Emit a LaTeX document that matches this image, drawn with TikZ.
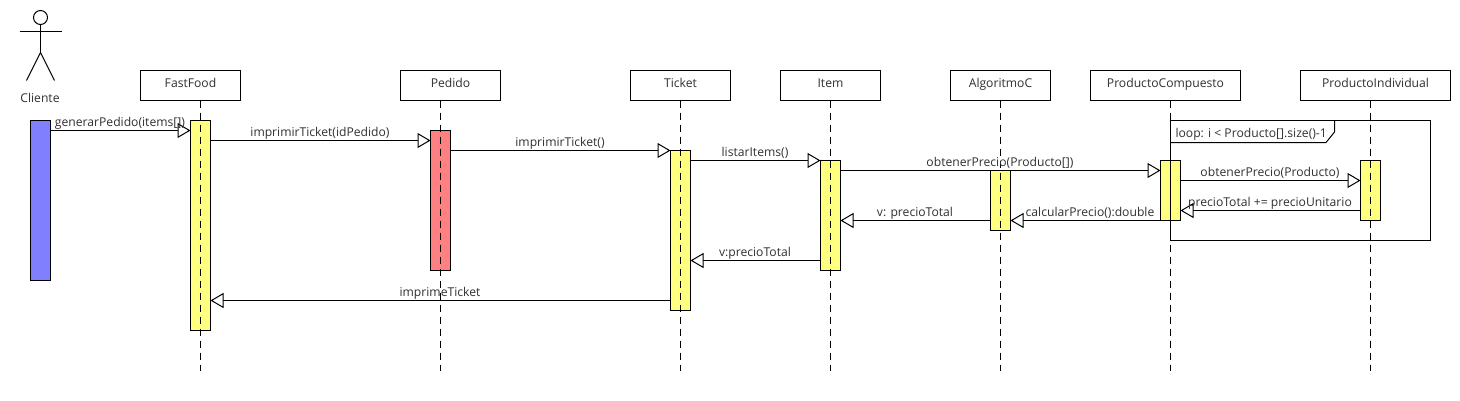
\documentclass[tikz,border=0pt]{standalone}
\usepackage{fontspec}
\setmainfont{Open Sans}
\usetikzlibrary{arrows.meta}
\definecolor{txt}{HTML}{303030}
\definecolor{actY}{HTML}{FFFF80}
\definecolor{actR}{HTML}{FF8080}
\definecolor{actB}{HTML}{8080FF}
\tikzset{
  every node/.style={font=\fontsize{12.15}{14}\selectfont, text=txt, inner sep=0pt, outer sep=0pt},
  head/.style={draw=black, fill=white, line width=1pt, minimum height=30pt, anchor=north, text height=9pt, text depth=6pt},
  life/.style={draw=black, line width=1pt, dash pattern=on 7pt off 5pt},
  bar/.style={draw=black, line width=1pt, minimum width=20pt, anchor=north},
  msg/.style={draw=black, line width=1pt, -{Triangle[open, fill=white, length=13pt, width=15pt, line width=1pt]}},
  lab/.style={anchor=base},
  shape line/.style={draw=black, line width=1pt}
}
\begin{document}
\begin{tikzpicture}[x=1pt,y=-1pt]
\useasboundingbox (0,0) rectangle (1460,400);
% heads
\node[head, minimum width=100pt] (hF) at (190.5,70.5) {FastFood};
\node[head, minimum width=100pt] (hP) at (450.5,70.5) {Pedido};
\node[head, minimum width=100pt] (hT) at (680.5,70.5) {Ticket};
\node[head, minimum width=100pt] (hI) at (830.5,70.5) {Item};
\node[head, minimum width=100pt] (hA) at (1000.5,70.5) {AlgoritmoC};
\node[head, minimum width=150pt] (hC) at (1165.5,70.5) {ProductoCompuesto};
\node[head, minimum width=150pt] (hD) at (1375.5,70.5) {ProductoIndividual};
% activation bars
\node[bar, fill=actB, minimum height=160pt] (aL) at (40.5,120.5) {};
\node[bar, fill=actY, minimum height=210pt] (aF) at (200.5,120.5) {};
\node[bar, fill=actR, minimum height=140pt] (aP) at (440.5,130.5) {};
\node[bar, fill=actY, minimum height=160pt] (aT) at (680.5,150.5) {};
\node[bar, fill=actY, minimum height=110pt] (aI) at (830.5,160.5) {};
\node[bar, fill=actY, minimum height=60pt] (aA) at (1000.5,170.5) {};
\node[bar, fill=actY, minimum height=60pt] (aC) at (1170.5,160.5) {};
\node[bar, fill=actY, minimum height=60pt] (aD) at (1370.5,160.5) {};
% lifeline ends
\coordinate (eF) at (200.5,371);
\coordinate (eP) at (440.5,371);
\coordinate (eT) at (680.5,371);
\coordinate (eI) at (830.5,371);
\coordinate (eA) at (1000.5,371);
\coordinate (eC) at (1170.5,371);
\coordinate (eD) at (1370.5,371);
\draw[life] (aF.north |- hF.south) -- (eF);
\draw[life] (aP.north |- hP.south) -- (eP);
\draw[life] (aT.north |- hT.south) -- (eT);
\draw[life] (aI.north |- hI.south) -- (eI);
\draw[life] (aA.north |- hA.south) -- (eA);
\draw[life] (aC.north |- hC.south) -- (eC);
\draw[life] (aD.north |- hD.south) -- (eD);
% loop frame
\coordinate (fa) at (1170.5,120.5);
\coordinate (fb) at (1430.5,240.5);
\draw[shape line] (fa) rectangle (fb);
\coordinate (fc) at (1334.5,120.5);
\coordinate (fd) at (1334.5,132);
\coordinate (fe) at (1326,142.5);
\coordinate (ff) at (1170.5,142.5);
\draw[shape line] (fc) -- (fd) -- (fe) -- (ff);
\node[anchor=base west] (loopT) at (1175.5,137) {loop: i < Producto[].size()-1};
% message levels
\coordinate (m1) at (0,130.5);
\coordinate (m2) at (0,140.5);
\coordinate (m3) at (0,150.5);
\coordinate (m4) at (0,160.5);
\coordinate (m5) at (0,170.5);
\coordinate (m6) at (0,180.5);
\coordinate (m7) at (0,210.5);
\coordinate (m8) at (0,220.5);
\coordinate (m9) at (0,260.5);
\coordinate (m10) at (0,300.5);
\draw[msg] (aL.east |- m1) -- (aF.west |- m1);
\draw[msg] (aF.east |- m2) -- (aP.west |- m2);
\draw[msg] (aP.east |- m3) -- (aT.west |- m3);
\draw[msg] (aT.east |- m4) -- (aI.west |- m4);
\draw[msg] (aI.east |- m5) -- (aC.west |- m5);
\draw[msg] (aC.east |- m6) -- (aD.west |- m6);
\draw[msg] (aD.west |- m7) -- (aC.east |- m7);
\draw[msg] (aC.west |- m8) -- (aA.east |- m8);
\draw[msg] (aA.west |- m8) -- (aI.east |- m8);
\draw[msg] (aI.west |- m9) -- (aT.east |- m9);
\draw[msg] (aT.west |- m10) -- (aF.east |- m10);
% labels
\node[lab] (l1) at (120,126.5) {generarPedido(items[])};
\node[lab] (l2) at (320,136.5) {imprimirTicket(idPedido)};
\node[lab] (l3) at (560,146.5) {imprimirTicket()};
\node[lab] (l4) at (755,156.5) {listarItems()};
\node[lab] (l5) at (1000,166.5) {obtenerPrecio(Producto[])};
\node[lab] (l6) at (1270,176.5) {obtenerPrecio(Producto)};
\node[lab] (l7) at (1270,206) {precioTotal += precioUnitario};
\node[lab] (l8) at (1090,216) {calcularPrecio():double};
\node[lab] (l9) at (915,216) {v: precioTotal};
\node[lab] (l10) at (755,256.5) {v:precioTotal};
\node[lab] (l11) at (440,296.5) {imprimeTicket};
% actor
\node[draw=black, line width=1pt, circle, minimum size=14pt, fill=white] (head) at (40.5,17.5) {};
\coordinate (armL) at (19.5,31.5);
\coordinate (armR) at (61.5,31.5);
\coordinate (hip) at (40.5,52.5);
\coordinate (legL) at (26.5,80.5);
\coordinate (legR) at (54.5,80.5);
\draw[shape line] (head.south) -- (hip);
\draw[shape line] (armL) -- (armR);
\draw[shape line] (legL) -- (hip) -- (legR);
\node[lab] (cli) at (40,102) {Cliente};
\end{tikzpicture}
\end{document}
